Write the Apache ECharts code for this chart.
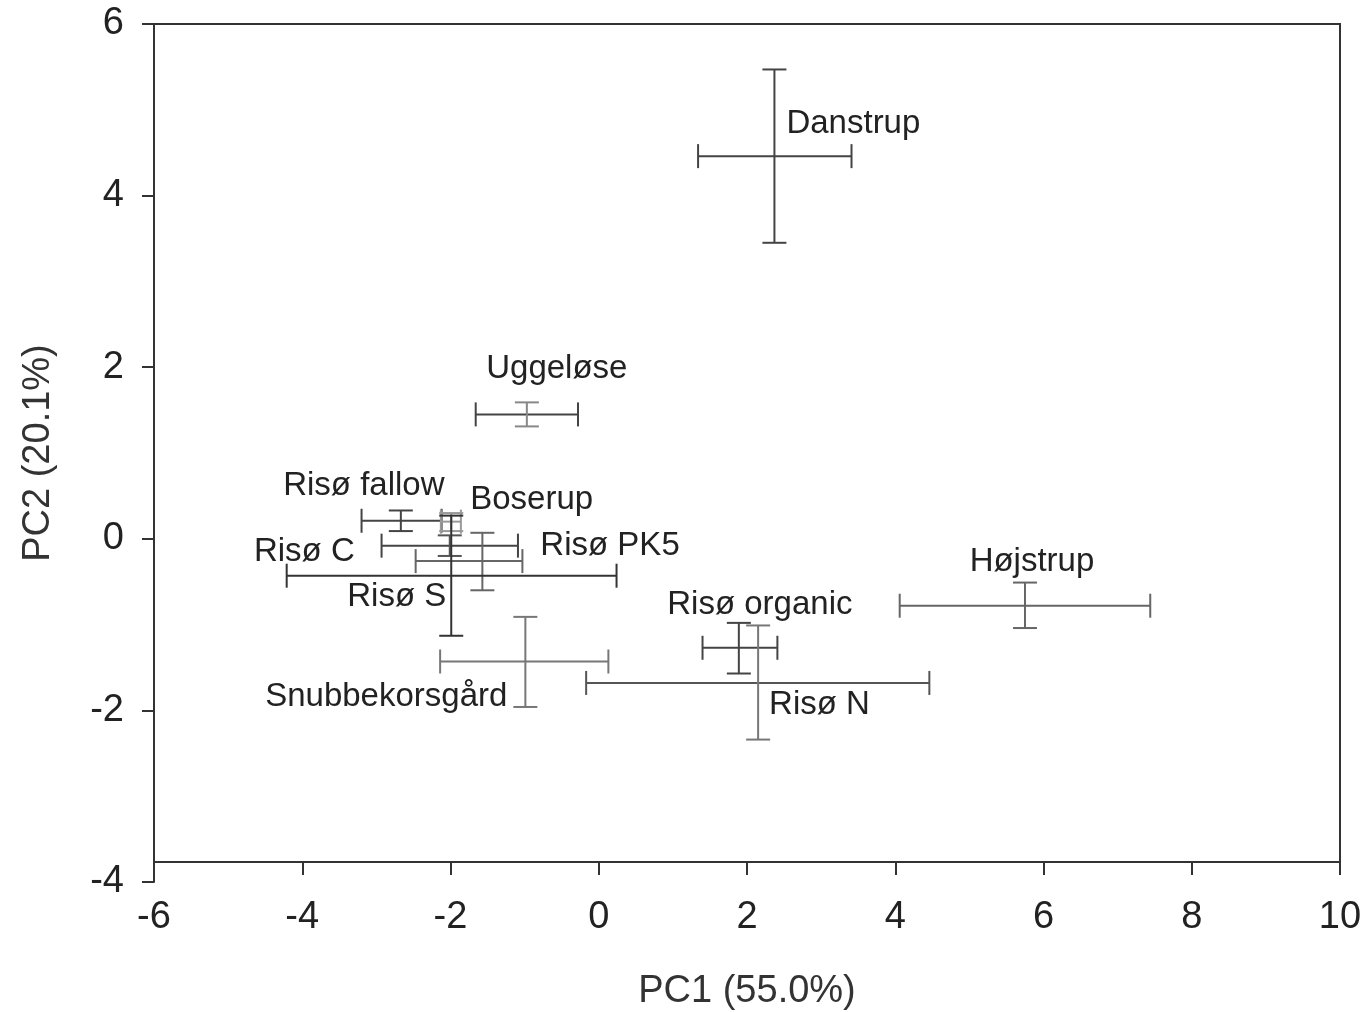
<!DOCTYPE html>
<html>
<head>
<meta charset="utf-8">
<script src="https://cdn.jsdelivr.net/npm/echarts@6/dist/echarts.min.js"></script>
<style>
  html, body { margin: 0; padding: 0; background: #fff; }
  #chart { width: 1368px; height: 1012px; }
</style>
</head>
<body>
<div id="chart"></div>
<script>
// PCA scores per site, with ends of the error bars
const sites   = ['Danstrup', 'Uggeløse', 'Højstrup', 'Risø fallow', 'Boserup', 'Risø C', 'Risø PK5', 'Risø S', 'Snubbekorsgård', 'Risø organic', 'Risø N'];
const pc1     = [2.37, -0.97, 5.75, -2.67, -1.99, -2.01, -1.57, -1.99, -0.99, 1.89, 2.15];
const pc2     = [4.46, 1.45, -0.78, 0.21, 0.20, -0.08, -0.26, -0.43, -1.43, -1.27, -1.68];
const pc1Low  = [1.34, -1.66, 4.06, -3.20, -2.13, -2.93, -2.47, -4.21, -2.14, 1.40, -0.17];
const pc1High = [3.41, -0.28, 7.44, -2.12, -1.86, -1.09, -1.03, 0.24, 0.13, 2.41, 4.46];
const pc2Low  = [3.45, 1.31, -1.04, 0.09, 0.09, -0.20, -0.60, -1.13, -1.96, -1.57, -2.34];
const pc2High = [5.47, 1.59, -0.51, 0.33, 0.30, 0.04, 0.07, 0.27, -0.91, -0.98, -1.01];

// label placement (px offset from the point) and bar tones
const labelPlace = {
  'Danstrup': [12, -32, 'left'],
  'Uggeløse': [30, -45, 'center'],
  'Højstrup': [7, -44, 'center'],
  'Risø fallow': [-37, -35, 'center'],
  'Boserup': [19, -22, 'left'],
  'Risø C': [-95, 6, 'right'],
  'Risø PK5': [58, -15, 'left'],
  'Risø S': [-5, 21, 'right'],
  'Snubbekorsgård': [-18, 35, 'right'],
  'Risø organic': [21, -43, 'center'],
  'Risø N': [11, 22, 'left']
};
const tone = {
  'Danstrup': ['#444', '#444'],
  'Uggeløse': ['#444', '#888'],
  'Højstrup': ['#666', '#666'],
  'Risø fallow': ['#444', '#444'],
  'Boserup': ['#999', '#999'],
  'Risø C': ['#444', '#555'],
  'Risø PK5': ['#666', '#666'],
  'Risø S': ['#333', '#333'],
  'Snubbekorsgård': ['#777', '#777'],
  'Risø organic': ['#444', '#444'],
  'Risø N': ['#555', '#777']
};

const rows = sites.map((s, i) => [pc1[i], pc2[i], pc1Low[i], pc1High[i], pc2Low[i], pc2High[i], i]);

const FONT = 'Liberation Sans, Arial, sans-serif';

function renderItem(params, api) {
  const i = api.value(6);
  const name = sites[i];
  const c = api.coord([api.value(0), api.value(1)]);
  const l = api.coord([api.value(2), api.value(1)]);
  const r = api.coord([api.value(3), api.value(1)]);
  const b = api.coord([api.value(0), api.value(4)]);
  const t = api.coord([api.value(0), api.value(5)]);
  const cap = 12;
  const xs = { stroke: tone[name][0], lineWidth: 2 };
  const ys = { stroke: tone[name][1], lineWidth: 2 };
  const p = labelPlace[name];
  return {
    type: 'group',
    children: [
      { type: 'line', shape: { x1: l[0], y1: l[1], x2: r[0], y2: r[1] }, style: xs },
      { type: 'line', shape: { x1: l[0], y1: l[1] - cap, x2: l[0], y2: l[1] + cap }, style: xs },
      { type: 'line', shape: { x1: r[0], y1: r[1] - cap, x2: r[0], y2: r[1] + cap }, style: xs },
      { type: 'line', shape: { x1: t[0], y1: t[1], x2: b[0], y2: b[1] }, style: ys },
      { type: 'line', shape: { x1: t[0] - cap, y1: t[1], x2: t[0] + cap, y2: t[1] }, style: ys },
      { type: 'line', shape: { x1: b[0] - cap, y1: b[1], x2: b[0] + cap, y2: b[1] }, style: ys },
      {
        type: 'text',
        style: {
          x: c[0] + p[0], y: c[1] + p[1], text: name,
          fill: '#222', fontSize: 33, fontFamily: FONT,
          align: p[2], verticalAlign: 'middle'
        }
      }
    ]
  };
}

const chart = echarts.init(document.getElementById('chart'));
chart.setOption({
  animation: false,
  grid: { left: 154, right: 28, top: 24, bottom: 130, outerBoundsMode: 'none' },
  xAxis: {
    type: 'value', min: -6, max: 10, interval: 2, offset: -20,
    name: 'PC1 (55.0%)', nameLocation: 'middle', nameGap: 111,
    nameTextStyle: { fontSize: 38, color: '#333', fontFamily: FONT },
    axisLine: { onZero: false, lineStyle: { color: '#333', width: 2 } },
    axisTick: { length: 13, lineStyle: { color: '#333', width: 2 } },
    axisLabel: { fontSize: 38, color: '#222', fontFamily: FONT, margin: 37 },
    splitLine: { show: false }
  },
  yAxis: {
    type: 'value', min: -4, max: 6, interval: 2,
    name: 'PC2 (20.1%)', nameLocation: 'middle', nameGap: 96,
    nameTextStyle: { fontSize: 38, color: '#333', fontFamily: FONT },
    axisLine: { onZero: false, lineStyle: { color: '#333', width: 2 } },
    axisTick: { length: 12, lineStyle: { color: '#333', width: 2 } },
    axisLabel: { fontSize: 38, color: '#222', fontFamily: FONT, margin: 30 },
    splitLine: { show: false }
  },
  series: [{
    type: 'custom',
    renderItem: renderItem,
    data: rows,
    clip: false
  }]
});

// frame on top and right, ending at the raised x axis
const tl = chart.convertToPixel({ gridIndex: 0 }, [-6, 6]);
const br = chart.convertToPixel({ gridIndex: 0 }, [10, -4]);
chart.setOption({
  graphic: [{
    type: 'polyline',
    shape: { points: [[tl[0], tl[1]], [br[0], tl[1]], [br[0], br[1] - 20]] },
    style: { stroke: '#333', lineWidth: 2, fill: null }
  }]
});
</script>
</body>
</html>
